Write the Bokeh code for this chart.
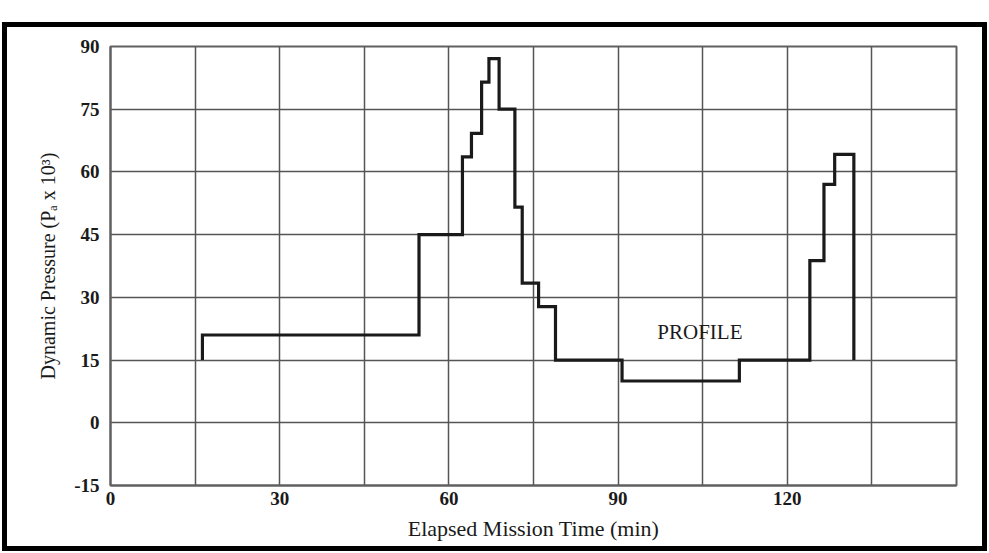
from bokeh.plotting import figure
from bokeh.models import FixedTicker, Range1d, ColumnDataSource
from bokeh.core.properties import value
from bokeh.embed import file_html
from bokeh.resources import INLINE

# ---- data ----
change_times = [16.3, 54.7, 62.4, 64.0, 65.8, 67.1, 68.9, 71.7, 73.0, 75.9,
                78.9, 90.7, 111.5, 124.0, 126.5, 128.4, 131.8]
levels = [21, 45, 63.6, 69.2, 81.5, 87.1, 75, 51.6, 33.4, 27.8,
          15, 10, 15, 38.8, 57, 64.2]
base_level = 15

x_ticks = [0, 30, 60, 90, 120]
x_grid = [15, 30, 45, 60, 75, 90, 105, 120, 135]
y_ticks = [-15, 0, 15, 30, 45, 60, 75, 90]

label_text = ["PROFILE"]
label_t = [104.5]
label_p = [21.6]

# ---- build step outline from data ----
xs = [change_times[0]]
ys = [base_level]
for i, lvl in enumerate(levels):
    xs += [change_times[i], change_times[i + 1]]
    ys += [lvl, lvl]
xs.append(change_times[-1])
ys.append(base_level)

src = ColumnDataSource(dict(t=xs, p=ys))
lab = ColumnDataSource(dict(t=label_t, p=label_p, s=label_text))

serif = "Liberation Serif"
ink = "#1a1a1a"
gridc = "#555555"

p = figure(width=975, height=519, x_range=Range1d(0, 150), y_range=Range1d(-15, 90),
           output_backend="svg", toolbar_location=None,
           min_border_left=103, min_border_right=36, min_border_top=19, min_border_bottom=71)
p.margin = (22, 0, 0, 2)
p.styles = {"border": "5px solid black", "box-sizing": "content-box"}

p.background_fill_color = "white"
p.border_fill_color = "white"
p.outline_line_color = "#606060"
p.outline_line_width = 2

p.xaxis.ticker = FixedTicker(ticks=x_ticks)
p.yaxis.ticker = FixedTicker(ticks=y_ticks)
p.xgrid.ticker = FixedTicker(ticks=x_grid)
p.ygrid.ticker = FixedTicker(ticks=y_ticks)
p.yaxis.major_label_overrides = {t: str(t) for t in y_ticks}
p.xaxis.major_label_overrides = {t: str(t) for t in x_ticks}

for g in (p.xgrid, p.ygrid):
    g.grid_line_color = gridc
    g.grid_line_width = 1.5
    g.grid_line_alpha = 1.0

for ax in (p.xaxis, p.yaxis):
    ax.axis_line_color = "#606060"
    ax.axis_line_width = 2
    ax.major_tick_line_color = None
    ax.minor_tick_line_color = None
    ax.major_tick_out = 0
    ax.major_tick_in = 0
    ax.major_label_text_font = serif
    ax.major_label_text_font_size = "19px"
    ax.major_label_text_font_style = "bold"
    ax.major_label_text_color = ink
    ax.axis_label_text_font = serif
    ax.axis_label_text_font_style = "normal"
    ax.axis_label_text_color = ink

p.xaxis.axis_label_text_font_size = "22px"
p.yaxis.axis_label_text_font_size = "20px"
p.xaxis.axis_label = "Elapsed Mission Time (min)"
p.yaxis.axis_label = "Dynamic Pressure (Pₐ x 10³)"
p.xaxis.major_label_standoff = 6
p.yaxis.major_label_standoff = 11
p.xaxis.axis_label_standoff = 8
p.yaxis.axis_label_standoff = 12

p.line("t", "p", source=src, line_color=ink, line_width=3.2, line_join="miter")
p.text("t", "p", text="s", source=lab, text_font=value(serif), text_font_size="21px",
       text_color=ink, text_align="center", text_baseline="middle")

open("out.html", "w").write(file_html(p, INLINE))
